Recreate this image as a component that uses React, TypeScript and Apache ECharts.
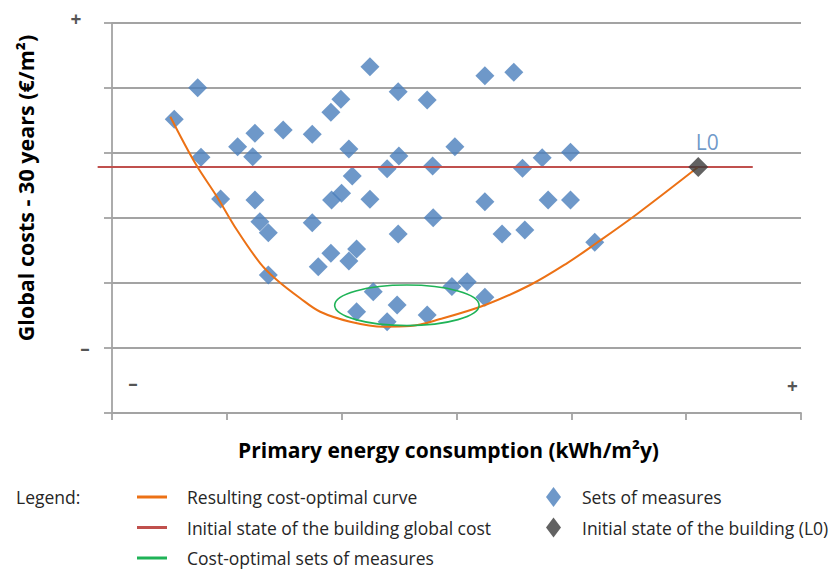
import React, { useEffect, useRef } from "react";
import * as echarts from "echarts";

// Sets of measures (primary energy index, global cost index)
const measureEnergy = [
  0.542, 0.746, 0.775, 0.946, 1.094, 1.225, 1.245, 1.245, 1.288, 1.361, 1.361,
  1.491, 1.744, 1.744, 1.796, 1.906, 1.906, 1.993, 1.912, 1.999, 2.063, 2.092,
  2.063, 2.13, 2.246, 2.246, 2.275, 2.13, 2.396, 2.483, 2.492, 2.498, 2.396,
  2.492, 2.745, 2.745, 2.792, 2.797, 2.986, 2.96, 3.093, 3.247, 3.247, 3.499,
  3.575, 3.397, 3.595, 3.746, 3.798, 3.993, 3.993, 4.204, 3.247,
];
const measureCost = [
  4.518, 5.005, 3.934, 3.292, 4.097, 3.943, 4.303, 3.277, 2.943, 2.774, 2.123,
  4.354, 4.288, 2.928, 2.251, 2.457, 4.626, 4.826, 3.277, 3.38, 4.062, 3.646,
  2.338, 2.523, 5.328, 3.288, 1.866, 1.558, 1.405, 1.662, 4.943, 3.954, 3.758,
  2.754, 1.508, 4.815, 3.8, 3.005, 4.097, 1.946, 2.02, 1.78, 5.189, 5.242,
  3.765, 2.754, 2.815, 3.928, 3.277, 4.011, 3.277, 2.626, 3.251,
];

// Resulting cost-optimal curve
const curveEnergy = [
  0.508, 0.725, 0.914, 1.088, 1.291, 1.436, 1.639, 1.813, 2.074, 2.364, 2.597,
  2.858, 3.25, 3.641, 3.961, 4.207, 4.573, 5.101,
];
const curveCost = [
  4.558, 3.842, 3.328, 2.815, 2.303, 2.046, 1.765, 1.558, 1.405, 1.328, 1.338,
  1.446, 1.662, 1.969, 2.303, 2.6, 3.062, 3.78,
];

// Initial state of the building
const baselineEnergy = [-0.125, 5.58];
const baselineCost = 3.785;
const initialEnergy = 5.105;
const initialLabel = "L0";

// Cost-optimal sets of measures: centre and half-extents
const optimalCentre = [2.568, 1.657];
const optimalHalfSize = [0.629, 0.312];

const axisTicks = [0, 1, 2, 3, 4, 5, 6];

const NAME_CURVE = "Resulting cost-optimal curve";
const NAME_BASE = "Initial state of the building global cost";
const NAME_OPT = "Cost-optimal sets of measures";
const NAME_SETS = "Sets of measures";
const NAME_L0 = "Initial state of the building (L0)";

const BLUE = "#4a7ebb";
const ORANGE = "#ec7115";
const RED = "#c0504d";
const GREEN = "#1fb357";
const DARK = "#3b3b3b";
const GRID = "#a3a3a3";
const FONT = "Open Sans";

export default function App() {
  const ref = useRef<HTMLDivElement>(null);

  useEffect(() => {
    if (!ref.current) return;
    const chart = echarts.init(ref.current, undefined, { renderer: "svg" });
    const legendText = {
      fontFamily: FONT,
      fontSize: 17.5,
      color: "#262626",
      lineHeight: 18,
    };
    const signStyle = {
      fontFamily: FONT,
      fontSize: 19,
      fontWeight: "bold" as const,
      fill: "#555555",
      align: "center" as const,
      verticalAlign: "middle" as const,
    };
    chart.setOption({
      animation: false,
      backgroundColor: "#ffffff",
      grid: { left: 112, right: 32, top: 23, bottom: 156 },
      xAxis: {
        type: "value",
        min: axisTicks[0],
        max: axisTicks[axisTicks.length - 1],
        interval: 1,
        name: "Primary energy consumption (kWh/m²y)",
        nameLocation: "middle",
        nameGap: 26,
        nameTextStyle: {
          fontFamily: FONT,
          fontSize: 21,
          fontWeight: "bold",
          color: "#000",
          padding: [0, 16, 0, 0],
        },
        axisLine: { show: true, lineStyle: { color: GRID, width: 1.8 } },
        axisTick: { show: true, length: 7, lineStyle: { color: GRID, width: 1.8 } },
        axisLabel: { show: false },
        splitLine: { show: false },
      },
      yAxis: {
        type: "value",
        min: axisTicks[0],
        max: axisTicks[axisTicks.length - 1],
        interval: 1,
        axisLine: { show: true, lineStyle: { color: GRID, width: 1.8 } },
        axisTick: { show: true, length: 8, lineStyle: { color: GRID, width: 1.8 } },
        axisLabel: { show: false },
        splitLine: { show: true, lineStyle: { color: GRID, width: 1.8 } },
      },
      legend: [
        {
          orient: "vertical",
          left: 137,
          top: 488,
          height: 120,
          padding: 0,
          itemWidth: 30,
          itemHeight: 3,
          itemGap: 12.5,
          selectedMode: false,
          textStyle: { ...legendText, padding: [0, 0, 0, 15] },
          data: [
            { name: NAME_CURVE, icon: "rect" },
            { name: NAME_BASE, icon: "rect" },
            { name: NAME_OPT, icon: "rect" },
          ],
        },
        {
          orient: "vertical",
          left: 546,
          top: 487,
          height: 120,
          padding: 0,
          itemWidth: 15,
          itemHeight: 20,
          itemGap: 10.5,
          selectedMode: false,
          textStyle: { ...legendText, padding: [0, 0, 0, 16] },
          data: [
            { name: NAME_SETS, icon: "diamond" },
            { name: NAME_L0, icon: "diamond" },
          ],
        },
      ],
      graphic: [
        {
          type: "text",
          x: 16,
          y: 497,
          style: {
            text: "Legend:",
            fontFamily: FONT,
            fontSize: 17.5,
            fill: "#262626",
            verticalAlign: "middle",
          },
        },
        {
          type: "text",
          x: 25,
          y: 188,
          rotation: Math.PI / 2,
          style: {
            text: "Global costs - 30 years (€/m²)",
            fontFamily: FONT,
            fontSize: 21.5,
            fontWeight: "bold",
            fill: "#000",
            align: "center",
            verticalAlign: "middle",
          },
        },
        { type: "text", x: 76, y: 19, style: { text: "+", ...signStyle } },
        { type: "text", x: 85, y: 348, style: { text: "–", ...signStyle } },
        { type: "text", x: 133, y: 383, style: { text: "–", ...signStyle } },
        { type: "text", x: 792.5, y: 386, style: { text: "+", ...signStyle } },
      ],
      series: [
        {
          name: NAME_SETS,
          type: "scatter",
          symbol: "diamond",
          symbolSize: 19,
          itemStyle: { color: BLUE },
          data: measureEnergy.map((x, i) => [x, measureCost[i]]),
          z: 2,
        },
        {
          name: NAME_BASE,
          type: "custom",
          clip: false,
          itemStyle: { color: RED },
          encode: { x: [0, 1], y: 2 },
          data: [[baselineEnergy[0], baselineEnergy[1], baselineCost]],
          renderItem: (_params: any, api: any) => {
            const a = api.coord([api.value(0), api.value(2)]);
            const b = api.coord([api.value(1), api.value(2)]);
            return {
              type: "line",
              shape: { x1: a[0], y1: a[1], x2: b[0], y2: b[1] },
              style: { stroke: RED, lineWidth: 2 },
            };
          },
          z: 3,
        },
        {
          name: NAME_CURVE,
          type: "line",
          smooth: 0.35,
          clip: false,
          showSymbol: false,
          symbol: "none",
          color: ORANGE,
          itemStyle: { color: ORANGE },
          lineStyle: { color: ORANGE, width: 2 },
          data: curveEnergy.map((x, i) => [x, curveCost[i]]),
          z: 4,
        },
        {
          name: NAME_OPT,
          type: "custom",
          clip: false,
          itemStyle: { color: GREEN },
          encode: { x: 0, y: 1 },
          data: [[optimalCentre[0], optimalCentre[1], optimalHalfSize[0], optimalHalfSize[1]]],
          renderItem: (_params: any, api: any) => {
            const c = api.coord([api.value(0), api.value(1)]);
            const s = api.size([api.value(2), api.value(3)]);
            return {
              type: "ellipse",
              shape: { cx: c[0], cy: c[1], rx: s[0], ry: s[1] },
              style: { fill: "none", stroke: GREEN, lineWidth: 1.6 },
            };
          },
          z: 5,
        },
        {
          name: NAME_L0,
          type: "scatter",
          symbol: "diamond",
          symbolSize: 20,
          itemStyle: { color: DARK },
          label: {
            show: true,
            position: "top",
            distance: 4,
            offset: [9, 0],
            formatter: initialLabel,
            color: BLUE,
            fontFamily: FONT,
            fontSize: 21,
          },
          data: [[initialEnergy, baselineCost]],
          z: 6,
        },
      ],
    });
    return () => chart.dispose();
  }, []);

  return (
    <div
      ref={ref}
      style={{ position: "fixed", left: 0, top: 0, width: 833, height: 569, background: "#fff" }}
    />
  );
}
